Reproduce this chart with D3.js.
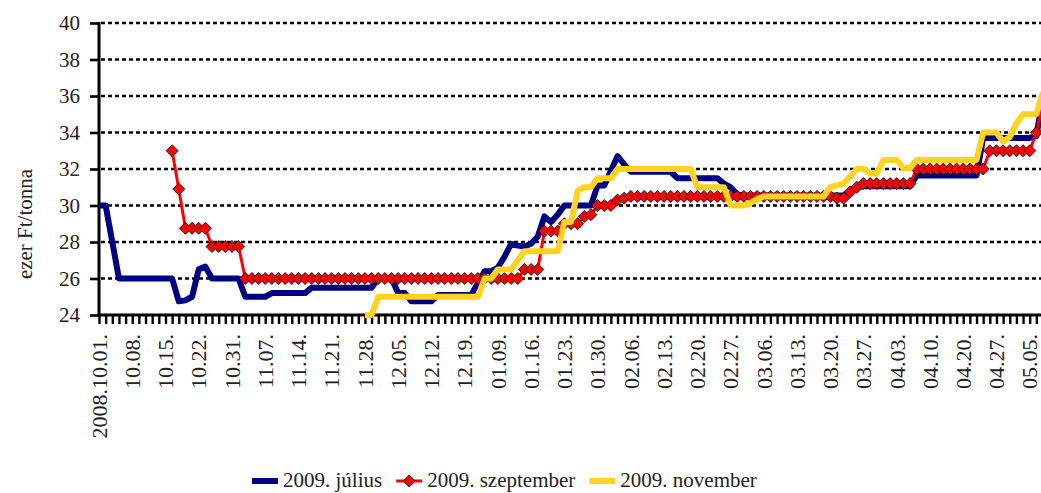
<!DOCTYPE html>
<html>
<head>
<meta charset="utf-8">
<script src="https://cdn.jsdelivr.net/npm/d3@7/dist/d3.min.js"></script>
<style>
    body { margin: 0; background: #fff; }
    svg { display: block; }
    svg text { font-family: "Liberation Serif", "Times New Roman", "DejaVu Serif", serif !important; }
</style>
</head>
<body>
<div id="chart"></div>
<script>
// tick labels, one every 5 trading days
const tickLabels = [
    '2008.10.01.', '10.08.', '10.15.', '10.22.', '10.31.', '11.07.', '11.14.', '11.21.', '11.28.',
    '12.05.', '12.12.', '12.19.', '01.09.', '01.16.', '01.23.', '01.30.', '02.06.', '02.13.',
    '02.20.', '02.27.', '03.06.', '03.13.', '03.20.', '03.27.', '04.03.', '04.10.', '04.20.',
    '04.27.', '05.05.'
];
const labelStep = 5;
const dayCount = 143;

const yTicks = [24, 26, 28, 30, 32, 34, 36, 38, 40];

// ezer Ft/tonna, one value per trading day
const julius = [
    30, 30, 28, 26, 26, 26, 26, 26, 26, 26,
    26, 26, 24.75, 24.8, 25, 26.5, 26.65, 26, 26, 26,
    26, 26, 25, 25, 25, 25, 25.2, 25.2, 25.2, 25.2,
    25.2, 25.2, 25.5, 25.5, 25.5, 25.5, 25.5, 25.5, 25.5, 25.5,
    25.5, 25.5, 26, 26, 26, 25.2, 25.2, 24.75, 24.75, 24.75,
    24.75, 25.1, 25.1, 25.1, 25.1, 25.1, 25.1, 25.75, 26.4, 26.4,
    26.6, 27.2, 27.9, 27.8, 27.75, 27.9, 28.3, 29.4, 29.1, 29.5,
    30, 30, 30, 30, 30, 31.1, 31.1, 31.9, 32.7, 32.25,
    31.85, 31.85, 31.85, 31.85, 31.85, 31.85, 31.85, 31.5, 31.5, 31.5,
    31.5, 31.5, 31.5, 31.5, 31.2, 31, 30.6, 30.55, 30.55, 30.55,
    30.55, 30.55, 30.55, 30.55, 30.55, 30.55, 30.55, 30.55, 30.55, 30.55,
    30.55, 30.55, 30.55, 30.8, 31, 31.05, 31.05, 31.05, 31.05, 31.05,
    31.05, 31.05, 31.05, 31.65, 31.65, 31.65, 31.65, 31.65, 31.65, 31.65,
    31.65, 31.65, 31.65, 33.7, 33.7, 33.7, 33.7, 33.7, 33.7, 33.7,
    33.7, 33.8, 36
];

const szeptember = [
    null, null, null, null, null, null, null, null, null, null,
    null, 33, 30.9, 28.75, 28.75, 28.75, 28.75, 27.75, 27.75, 27.75,
    27.75, 27.75, 26, 26, 26, 26, 26, 26, 26, 26,
    26, 26, 26, 26, 26, 26, 26, 26, 26, 26,
    26, 26, 26, 26, 26, 26, 26, 26, 26, 26,
    26, 26, 26, 26, 26, 26, 26, 26, 26, 26,
    26, 26, 26, 26, 26.5, 26.5, 26.5, 28.6, 28.6, 28.6,
    29, 29, 29, 29.4, 29.5, 30, 30, 30, 30.3, 30.4,
    30.5, 30.5, 30.5, 30.5, 30.5, 30.5, 30.5, 30.5, 30.5, 30.5,
    30.5, 30.5, 30.5, 30.5, 30.5, 30.5, 30.5, 30.5, 30.5, 30.5,
    30.5, 30.5, 30.5, 30.5, 30.5, 30.5, 30.5, 30.5, 30.5, 30.5,
    30.5, 30.4, 30.4, 30.75, 31, 31.2, 31.2, 31.2, 31.2, 31.2,
    31.2, 31.2, 31.2, 32, 32, 32, 32, 32, 32, 32,
    32, 32, 32, 32, 33, 33, 33, 33, 33, 33,
    33, 34, 35.6
];

const november = [
    null, null, null, null, null, null, null, null, null, null,
    null, null, null, null, null, null, null, null, null, null,
    null, null, null, null, null, null, null, null, null, null,
    null, null, null, null, null, null, null, null, null, null,
    24, 24, 25, 25, 25, 25, 25, 25, 25, 25,
    25, 25, 25, 25, 25, 25, 25, 25, 26, 26,
    26.5, 26.5, 26.5, 27, 27.5, 27.5, 27.5, 27.5, 27.5, 27.5,
    29.1, 29.1, 30.8, 31, 31, 31.5, 31.5, 31.5, 32, 32,
    32, 32, 32, 32, 32, 32, 32, 32, 32, 32,
    31, 31, 31, 31, 31, 30, 30, 30, 30.15, 30.35,
    30.5, 30.5, 30.5, 30.5, 30.5, 30.5, 30.5, 30.5, 30.5, 30.5,
    31, 31.1, 31.2, 31.6, 32, 32, 31.75, 31.75, 32.5, 32.5,
    32.5, 32.05, 32.05, 32.5, 32.5, 32.5, 32.5, 32.5, 32.5, 32.5,
    32.5, 32.5, 32.5, 34, 34, 34, 33.5, 33.75, 34.5, 35,
    35, 35, 36.2
];

const seriesNames = ['2009. július', '2009. szeptember', '2009. november'];

const serif = '"Liberation Serif", "Times New Roman", "DejaVu Serif", serif';

document.addEventListener('DOMContentLoaded', function() {
    createChart();
});

function createChart() {
    const width = 1041;
    const height = 493;
    const margin = { top: 23, right: -2, bottom: 178, left: 99 };

    const svg = d3.select('#chart')
        .append('svg')
        .attr('width', width)
        .attr('height', height)
        .attr('font-family', serif);

    svg.append('rect').attr('width', width).attr('height', height).attr('fill', '#fff');

    const x = d3.scalePoint()
        .domain(d3.range(dayCount))
        .range([margin.left, width - margin.right]);

    const y = d3.scaleLinear()
        .domain([24, 40])
        .range([height - margin.bottom, margin.top]);

    const xLeft = margin.left;
    const xRight = width - margin.right;

    // dotted gridlines
    svg.append('g')
        .selectAll('line')
        .data(yTicks.filter(v => v > 24))
        .enter()
        .append('line')
        .attr('x1', xLeft + 2)
        .attr('x2', xRight)
        .attr('y1', d => y(d))
        .attr('y2', d => y(d))
        .attr('stroke', '#000')
        .attr('stroke-width', 2.6)
        .attr('stroke-dasharray', '4,3');

    // y axis
    const yAxis = d3.axisLeft(y)
        .tickValues(yTicks)
        .tickSize(9)
        .tickPadding(10)
        .tickFormat(d3.format('d'));

    const gy = svg.append('g')
        .attr('transform', `translate(${xLeft}, 0)`)
        .call(yAxis)
        .attr('font-family', serif);
    gy.select('.domain').remove();
    gy.selectAll('.tick line').attr('stroke', '#000').attr('stroke-width', 2.6);
    gy.selectAll('.tick text')
        .attr('fill', '#222')
        .attr('font-family', serif)
        .style('font-size', '21px');

    // x axis: a tick for every day, a label every 5th day
    const xAxis = d3.axisBottom(x)
        .tickSize(9)
        .tickFormat(d => d % labelStep === 0 ? tickLabels[d / labelStep] : '');

    const gx = svg.append('g')
        .attr('transform', `translate(0, ${y(24)})`)
        .call(xAxis)
        .attr('font-family', serif);
    gx.select('.domain').remove();
    gx.selectAll('.tick line').attr('stroke', '#000').attr('stroke-width', 2.4);
    gx.selectAll('.tick text')
        .attr('fill', '#222')
        .attr('font-family', serif)
        .style('font-size', '22px')
        .style('text-anchor', 'end')
        .attr('transform', 'rotate(-90)')
        .attr('x', -19)
        .attr('y', 0)
        .attr('dy', '0.33em');

    // axis lines
    svg.append('line')
        .attr('x1', xLeft).attr('x2', xLeft)
        .attr('y1', y(40) - 1).attr('y2', y(24) + 2)
        .attr('stroke', '#000').attr('stroke-width', 3);
    svg.append('line')
        .attr('x1', xLeft).attr('x2', xRight)
        .attr('y1', y(24)).attr('y2', y(24))
        .attr('stroke', '#000').attr('stroke-width', 3);

    // y title
    svg.append('text')
        .attr('transform', `translate(25, ${(y(24) + y(40)) / 2 + 55}) rotate(-90)`)
        .attr('text-anchor', 'middle')
        .attr('dy', '0.35em')
        .attr('fill', '#222')
        .style('font-size', '21px')
        .text('ezer Ft/tonna');

    const line = d3.line()
        .defined(d => d != null)
        .x((d, i) => x(i))
        .y(d => y(d));

    const diamond = 'M0,-6L6,0L0,6L-6,0Z';

    // július
    svg.append('path')
        .datum(julius)
        .attr('d', line)
        .attr('fill', 'none')
        .attr('stroke', '#000080')
        .attr('stroke-width', 6)
        .attr('stroke-linejoin', 'round');

    // szeptember with diamond markers
    svg.append('path')
        .datum(szeptember)
        .attr('d', line)
        .attr('fill', 'none')
        .attr('stroke', '#ff0000')
        .attr('stroke-width', 3)
        .attr('stroke-linejoin', 'round');

    svg.append('g')
        .selectAll('path')
        .data(szeptember.map((v, i) => ({ i, v })).filter(d => d.v != null))
        .enter()
        .append('path')
        .attr('d', diamond)
        .attr('transform', d => `translate(${x(d.i)}, ${y(d.v)})`)
        .attr('fill', '#ff0000')
        .attr('stroke', '#000')
        .attr('stroke-width', 0.8);

    // november
    svg.append('path')
        .datum(november)
        .attr('d', line)
        .attr('fill', 'none')
        .attr('stroke', '#ffd320')
        .attr('stroke-width', 6)
        .attr('stroke-linejoin', 'round');

    // legend, laid out left to right from the first swatch
    const legend = svg.append('g').attr('transform', 'translate(0, 481)');
    const colors = ['#000080', '#ff0000', '#ffd320'];
    const widths = [6, 3, 6];
    let cx = 252;
    seriesNames.forEach((name, k) => {
        const g = legend.append('g').attr('transform', `translate(${cx}, 0)`);
        g.append('line')
            .attr('x1', 0).attr('x2', 26)
            .attr('stroke', colors[k])
            .attr('stroke-width', widths[k]);
        if (k === 1) {
            g.append('path')
                .attr('d', diamond)
                .attr('transform', 'translate(13, 0)')
                .attr('fill', '#ff0000')
                .attr('stroke', '#000')
                .attr('stroke-width', 0.8);
        }
        const t = g.append('text')
            .attr('x', 31)
            .attr('y', 6)
            .attr('fill', '#222')
            .style('font-size', '21px')
            .text(name);
        cx += 31 + t.node().getComputedTextLength() + 14;
    });
}
</script>
</body>
</html>
